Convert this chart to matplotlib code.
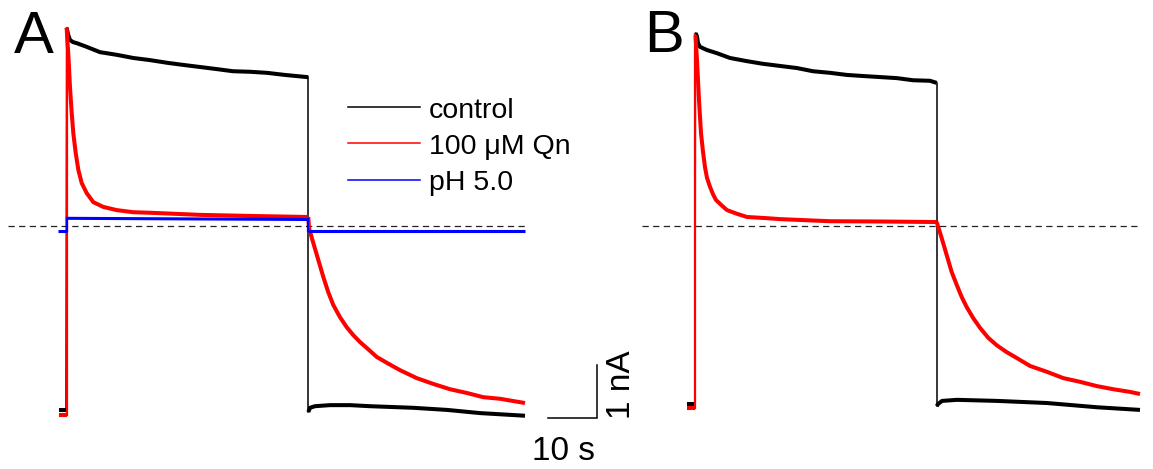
import matplotlib
matplotlib.use('Agg')
import matplotlib.pyplot as plt

plt.rcParams['font.family'] = ['Liberation Sans', 'DejaVu Sans']

# ---------------- data (time in s, current in nA) ----------------
# Panel A
a_ctrl_pre_t = [-1.4, 0.0]
a_ctrl_pre_i = [-3.47, -3.47]
a_ctrl_on_t = [0.14, 0.41, 0.82, 1.44, 2.21, 4.27, 7.01, 10.45, 13.88, 17.32, 20.82, 24.12,
               27.63, 31.13, 34.43, 37.94, 41.44, 45.15, 49.69, 49.96]
a_ctrl_on_i = [3.74, 3.62, 3.51, 3.47, 3.45, 3.38, 3.28, 3.23, 3.17, 3.13, 3.08, 3.04,
               3.00, 2.96, 2.92, 2.91, 2.89, 2.85, 2.81, 2.81]
a_ctrl_off_t = [49.96, 50.31, 51.34, 54.43, 58.56, 62.68, 71.55, 78.56, 85.36, 94.64]
a_ctrl_off_i = [-3.51, -3.43, -3.40, -3.38, -3.38, -3.40, -3.43, -3.47, -3.53, -3.58]

a_qn_pre_t = [-1.4, 0.14]
a_qn_pre_i = [-3.57, -3.57]
a_qn_on_t = [0.14, 0.27, 0.47, 0.82, 1.18, 1.51, 2.00, 2.54, 3.24, 4.27, 5.63, 7.69,
             10.45, 13.88, 17.32, 27.63, 37.94, 49.96]
a_qn_on_i = [3.74, 3.51, 3.26, 2.62, 2.13, 1.75, 1.38, 1.06, 0.81, 0.62, 0.45, 0.36,
             0.30, 0.26, 0.25, 0.21, 0.19, 0.17]
a_qn_off_t = [49.96, 50.10, 50.99, 52.02, 53.05, 54.08, 55.11, 56.49, 57.88, 59.24, 60.62,
              62.00, 64.06, 66.12, 68.87, 72.31, 75.73, 79.18, 82.62, 86.04, 89.48, 94.64]
a_qn_off_i = [0.17, -0.04, -0.32, -0.64, -0.96, -1.25, -1.49, -1.72, -1.91, -2.06, -2.19,
              -2.30, -2.47, -2.58, -2.72, -2.87, -2.98, -3.08, -3.15, -3.23, -3.26, -3.34]

a_ph_pre_t = [-1.6, 0.25]
a_ph_pre_i = [-0.094, -0.094]
a_ph_on_t = [0.25, 49.96]
a_ph_on_i = [0.145, 0.123]
a_ph_off_t = [49.96, 94.6]
a_ph_off_i = [-0.089, -0.089]

# Panel B
b_ctrl_pre_t = [-1.65, 0.0]
b_ctrl_pre_i = [-3.36, -3.36]
b_ctrl_on_t = [0.10, 0.41, 0.62, 1.03, 2.47, 4.54, 7.22, 10.72, 14.02, 17.53, 21.03, 24.33,
               27.84, 31.34, 34.64, 38.14, 41.65, 44.95, 48.45, 49.84]
b_ctrl_on_i = [3.64, 3.58, 3.45, 3.38, 3.32, 3.26, 3.17, 3.11, 3.06, 3.02, 2.98, 2.92,
               2.89, 2.85, 2.83, 2.81, 2.79, 2.75, 2.74, 2.70]
b_ctrl_off_t = [49.84, 50.10, 50.93, 54.02, 62.27, 72.58, 82.89, 91.75]
b_ctrl_off_i = [-3.40, -3.36, -3.30, -3.28, -3.30, -3.34, -3.42, -3.47]

b_qn_pre_t = [-1.65, 0.10]
b_qn_pre_i = [-3.43, -3.43]
b_qn_on_t = [0.10, 0.41, 0.82, 1.24, 1.65, 2.06, 2.47, 3.09, 3.71, 4.33, 5.36, 6.60,
             8.66, 10.72, 14.43, 17.53, 27.84, 38.14, 49.84]
b_qn_on_i = [3.60, 3.13, 2.38, 1.75, 1.40, 1.11, 0.91, 0.74, 0.60, 0.49, 0.40, 0.30,
             0.23, 0.17, 0.15, 0.13, 0.09, 0.085, 0.075]
b_qn_off_t = [49.84, 50.87, 51.90, 52.93, 53.96, 54.99, 56.02, 57.38, 58.76, 60.47, 62.21,
              64.27, 66.33, 69.07, 72.52, 75.94, 79.38, 82.82, 86.25, 89.69, 91.75]
b_qn_off_i = [0.075, -0.23, -0.55, -0.87, -1.11, -1.34, -1.53, -1.74, -1.92, -2.11, -2.25,
              -2.38, -2.49, -2.64, -2.75, -2.87, -2.94, -3.02, -3.08, -3.13, -3.17]

a_zero_t = [-11.96, 94.6]
b_zero_t = [-10.93, 91.3]

legend_labels = ['control', '100 \u03bcM Qn', 'pH 5.0']
legend_colors = ['black', 'red', 'blue']

scale_t = 10.0   # s
scale_i = 1.0    # nA

# ---------------- layout ----------------
W, H = 1153, 469
PX_S = 4.85   # px per second
PX_NA = 53.0  # px per nA
Y0 = 226.0    # zero-current pixel row

fig = plt.figure(figsize=(W / 100, H / 100), dpi=100)

def make_ax(left_px, right_px, t0_px):
    ax = fig.add_axes([left_px / W, 0, (right_px - left_px) / W, 1])
    ax.set_xlim((left_px - t0_px) / PX_S, (right_px - t0_px) / PX_S)
    ax.set_ylim((Y0 - H) / PX_NA, Y0 / PX_NA)
    ax.axis('off')
    return ax

axA = make_ax(0, 640, 66)
axB = make_ax(640, W, 695)

LW = 2.9

def draw_trace(ax, pre_t, pre_i, on_t, on_i, off_t, off_i, color, lw, vlw, z):
    ax.plot(pre_t, pre_i, color=color, lw=lw, solid_capstyle='butt', zorder=z)
    ax.plot(on_t, on_i, color=color, lw=lw, solid_capstyle='butt', zorder=z)
    ax.plot(off_t, off_i, color=color, lw=lw, solid_capstyle='butt', zorder=z)
    ax.plot([pre_t[-1], on_t[0]], [pre_i[-1], on_i[0]], color=color, lw=vlw, zorder=z)
    ax.plot([on_t[-1], off_t[0]], [on_i[-1], off_i[0]], color=color, lw=vlw, zorder=z)

# Panel A
axA.plot(a_zero_t, [0, 0], color='#222222', lw=0.9, ls=(0, (5, 3.5)), zorder=1)
draw_trace(axA, a_ctrl_pre_t, a_ctrl_pre_i, a_ctrl_on_t, a_ctrl_on_i, a_ctrl_off_t, a_ctrl_off_i,
           'black', LW, 1.1, 2)
draw_trace(axA, a_qn_pre_t, a_qn_pre_i, a_qn_on_t, a_qn_on_i, a_qn_off_t, a_qn_off_i,
           'red', LW, 1.6, 3)
draw_trace(axA, a_ph_pre_t, a_ph_pre_i, a_ph_on_t, a_ph_on_i, a_ph_off_t, a_ph_off_i,
           'blue', 2.2, 1.6, 4)

# Panel B
axB.plot(b_zero_t, [0, 0], color='#222222', lw=0.9, ls=(0, (5, 3.5)), zorder=1)
draw_trace(axB, b_ctrl_pre_t, b_ctrl_pre_i, b_ctrl_on_t, b_ctrl_on_i, b_ctrl_off_t, b_ctrl_off_i,
           'black', LW, 1.1, 2)
draw_trace(axB, b_qn_pre_t, b_qn_pre_i, b_qn_on_t, b_qn_on_i, b_qn_off_t, b_qn_off_i,
           'red', LW, 1.6, 3)

# Scale bar (in panel A data coords)
sb_t0 = (548 - 66) / PX_S
sb_i0 = (Y0 - 418) / PX_NA
axA.plot([sb_t0, sb_t0 + scale_t, sb_t0 + scale_t],
         [sb_i0, sb_i0, sb_i0 + scale_i], color='black', lw=1.1,
         solid_joinstyle='miter', zorder=5)

def fx(x):
    return x / W

def fy(y):
    return 1 - y / H

fig.text(fx(563), fy(460), '10 s', fontsize=24, ha='center', va='baseline')
fig.text(fx(621), fy(385), '1 nA', fontsize=24, ha='center', va='center', rotation=90)

# Panel letters
fig.text(fx(14), fy(53), 'A', fontsize=43, ha='left', va='baseline')
fig.text(fx(644), fy(52), 'B', fontsize=43, ha='left', va='baseline')

# Legend
for k, (lab, col) in enumerate(zip(legend_labels, legend_colors)):
    yl = 107 + 36.3 * k
    fig.add_artist(plt.Line2D([fx(348), fx(420)], [fy(yl), fy(yl)], color=col, lw=1.1))
    fig.text(fx(429), fy(yl + 10.5), lab, fontsize=20.5, ha='left', va='baseline')

fig.savefig('out.png', dpi=100)
